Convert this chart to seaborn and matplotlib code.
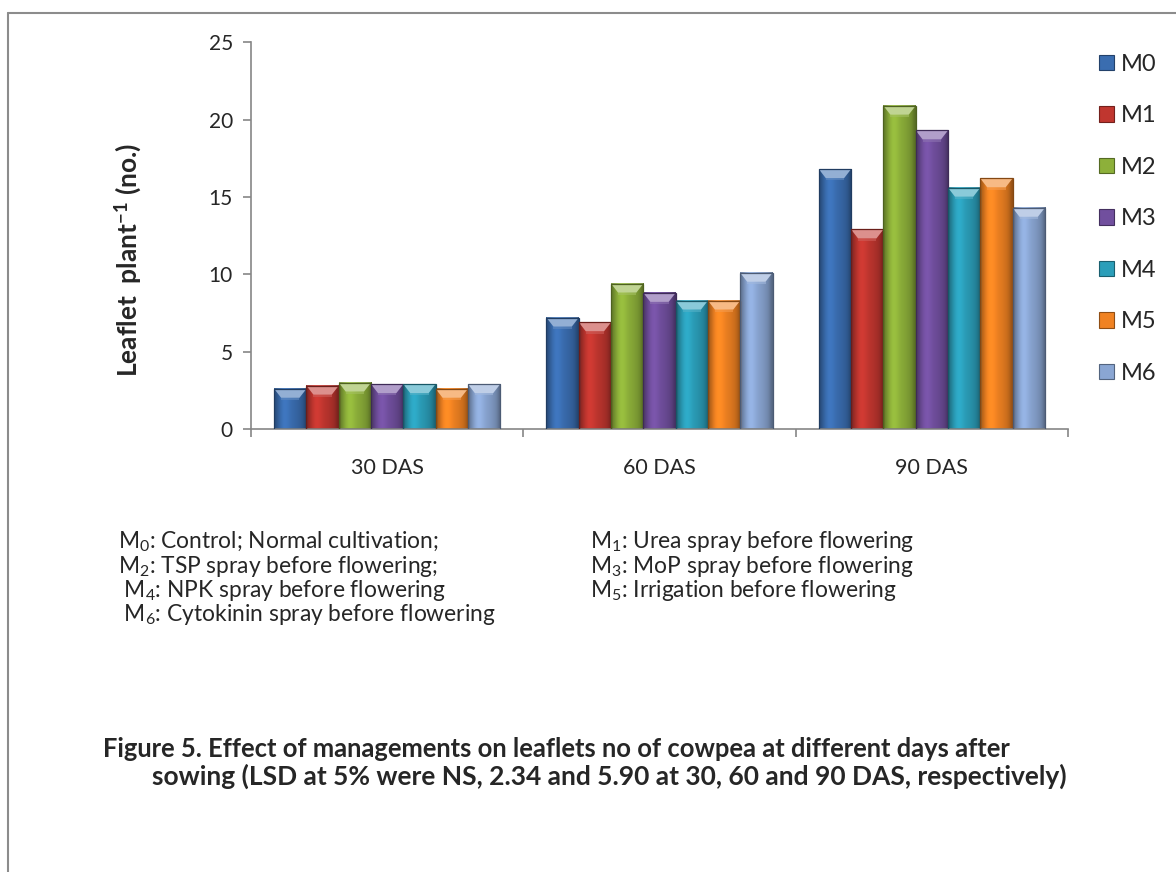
import numpy as np
import pandas as pd
import matplotlib
matplotlib.use("Agg")
import matplotlib.pyplot as plt
from matplotlib.patches import Polygon
from matplotlib.lines import Line2D
from matplotlib import colors as mcolors
import seaborn as sns

# ---- data -------------------------------------------------------------
stages = ["30 DAS", "60 DAS", "90 DAS"]
treatments = ["M0", "M1", "M2", "M3", "M4", "M5", "M6"]
leaflets_30 = [2.6, 2.8, 3.0, 2.9, 2.9, 2.6, 2.9]
leaflets_60 = [7.2, 6.9, 9.4, 8.8, 8.3, 8.3, 10.1]
leaflets_90 = [16.8, 12.9, 20.9, 19.3, 15.6, 16.2, 14.3]
bar_colors = ["#3A6DB0", "#C0362F", "#8DB03A", "#714F9E",
              "#2B9EB9", "#F08222", "#8AA6D3"]
y_ticks = [0, 5, 10, 15, 20, 25]

notes_left = [r"M$_0$: Control; Normal cultivation;",
              r"M$_2$: TSP spray before flowering;",
              r" M$_4$: NPK spray before flowering",
              r" M$_6$: Cytokinin spray before flowering"]
notes_right = [r"M$_1$: Urea spray before flowering",
               r"M$_3$: MoP spray before flowering",
               r"M$_5$: Irrigation before flowering"]
caption_1 = "Figure 5. Effect of managements on leaflets no of cowpea at different days after"
caption_2 = "sowing (LSD at 5% were NS, 2.34 and 5.90 at 30, 60 and 90 DAS, respectively)"

df = pd.DataFrame({
    "stage": np.repeat(stages, len(treatments)),
    "treatment": treatments * len(stages),
    "leaflets": leaflets_30 + leaflets_60 + leaflets_90,
})

# ---- style ------------------------------------------------------------
sns.set_style("white")
plt.rcParams["font.family"] = ["Lato", "DejaVu Sans"]
plt.rcParams["mathtext.fontset"] = "custom"
plt.rcParams["mathtext.rm"] = "Lato"
plt.rcParams["mathtext.bf"] = "Lato:bold"
plt.rcParams["mathtext.it"] = "Lato:italic"

W, H = 1176, 872
fig = plt.figure(figsize=(W / 100, H / 100), dpi=100)
ax_l, ax_r, ax_t, ax_b = 251, 1068, 42.3, 429
ax = fig.add_axes([ax_l / W, 1 - ax_b / H, (ax_r - ax_l) / W, (ax_b - ax_t) / H])

sns.barplot(data=df, x="stage", y="leaflets", hue="treatment",
            palette=bar_colors, width=0.83, ax=ax, errorbar=None,
            saturation=1, linewidth=0)

ax.set_xlim(-0.5, 2.5)
ax.set_ylim(0, 25)

# ---- bevelled bar faces -------------------------------------------------
px_x = (ax_r - ax_l) / 3.0      # pixels per category unit
px_y = (ax_b - ax_t) / 25.0     # pixels per value unit
dx, dy = 7 / px_x, 9 / px_y

profile = np.array([0.70, 0.82, 0.95, 1.05, 1.10, 1.08, 1.03, 0.98,
                    0.95, 0.92, 0.88, 0.84, 0.76, 0.62])
bars = [p for p in ax.patches if p.get_height() > 0]
for p in bars:
    x, w, h = p.get_x(), p.get_width(), p.get_height()
    base = np.array(mcolors.to_rgb(p.get_facecolor()))
    grad = np.clip(base[None, :] * profile[:, None], 0, 1)
    img = np.concatenate([grad, np.ones((len(profile), 1))], axis=1)[None, :, :]
    ax.imshow(img, extent=[x, x + w, 0, h], aspect="auto",
              interpolation="bicubic", zorder=2)
    light = np.clip(base + (1 - base) * 0.45, 0, 1)
    mid = np.clip(base + (1 - base) * 0.2, 0, 1)
    ax.add_patch(Polygon([(x, h), (x + w, h), (x + w - dx, h - dy), (x + dx, h - dy)],
                         closed=True, facecolor=light, edgecolor="none", zorder=3))
    ax.add_patch(Polygon([(x + dx, h - dy), (x + w - dx, h - dy),
                          (x + w - dx, h - dy * 1.25), (x + dx, h - dy * 1.25)],
                         closed=True, facecolor=mid, edgecolor="none", alpha=0.6, zorder=3))
    dark = np.clip(base * 0.55, 0, 1)
    ax.add_patch(Polygon([(x, 0), (x, h), (x + w, h), (x + w, 0)], closed=True,
                         facecolor="none", edgecolor=dark, linewidth=0.9, zorder=4))

ax.set_xlim(-0.5, 2.5)
ax.set_ylim(0, 25)

# ---- axes -------------------------------------------------------------
axis_grey = "#868686"
sns.despine(ax=ax, top=True, right=True)
for s in ("left", "bottom"):
    ax.spines[s].set_color(axis_grey)
    ax.spines[s].set_linewidth(1.2)

ax.set_yticks(y_ticks)
ax.set_yticklabels([str(v) for v in y_ticks], fontsize=15)
ax.set_xticks([-0.5, 0.5, 1.5, 2.5])
ax.set_xticklabels([])
ax.set_xticks([0, 1, 2], minor=True)
ax.set_xticklabels(stages, minor=True, fontsize=15.5)
ax.tick_params(axis="x", which="major", direction="out", length=6,
               width=1.2, color=axis_grey, bottom=True)
ax.tick_params(axis="x", which="minor", length=0, pad=21)
ax.tick_params(axis="y", direction="out", length=6, width=1.2,
               color=axis_grey, left=True, pad=7)
ax.set_xlabel("")
ax.set_ylabel("")

fig.text(128 / W, 1 - 260 / H, r"Leaflet  plant$^{\mathbf{-1}}$ (no.)",
         rotation=90, ha="center", va="center", fontsize=19, fontweight="bold")

# ---- legend -----------------------------------------------------------
handles, labels = ax.get_legend_handles_labels()
leg = ax.legend(handles, labels, loc="upper left",
                bbox_to_anchor=(1099 / W, 1 - 54 / H), bbox_transform=fig.transFigure,
                frameon=False, fontsize=17, handlelength=0.62, handleheight=0.62,
                handletextpad=0.3, labelspacing=1.29, borderaxespad=0,
                borderpad=0)
for hnd, col in zip(leg.legend_handles, bar_colors):
    hnd.set_edgecolor(np.clip(np.array(mcolors.to_rgb(col)) * 0.6, 0, 1))
    hnd.set_linewidth(0.8)

# ---- notes and caption ------------------------------------------------
for i, t in enumerate(notes_left):
    fig.text(118 / W, 1 - (542 + i * 24.2) / H, t, ha="left", va="center", fontsize=16.4)
for i, t in enumerate(notes_right):
    fig.text(590 / W, 1 - (542 + i * 24.2) / H, t, ha="left", va="center", fontsize=16.4)

fig.text(103 / W, 1 - 749 / H, caption_1, ha="left", va="center",
         fontsize=18.4, fontweight="bold")
fig.text(152 / W, 1 - 776 / H, caption_2, ha="left", va="center",
         fontsize=19.0, fontweight="bold")

# ---- frame ------------------------------------------------------------
fig.add_artist(Line2D([8 / W, 1], [1 - 13 / H, 1 - 13 / H], color="#8C8C8C", lw=1.5))
fig.add_artist(Line2D([8 / W, 8 / W], [0, 1 - 13 / H], color="#8C8C8C", lw=1.5))

fig.savefig("out.png", dpi=100)
